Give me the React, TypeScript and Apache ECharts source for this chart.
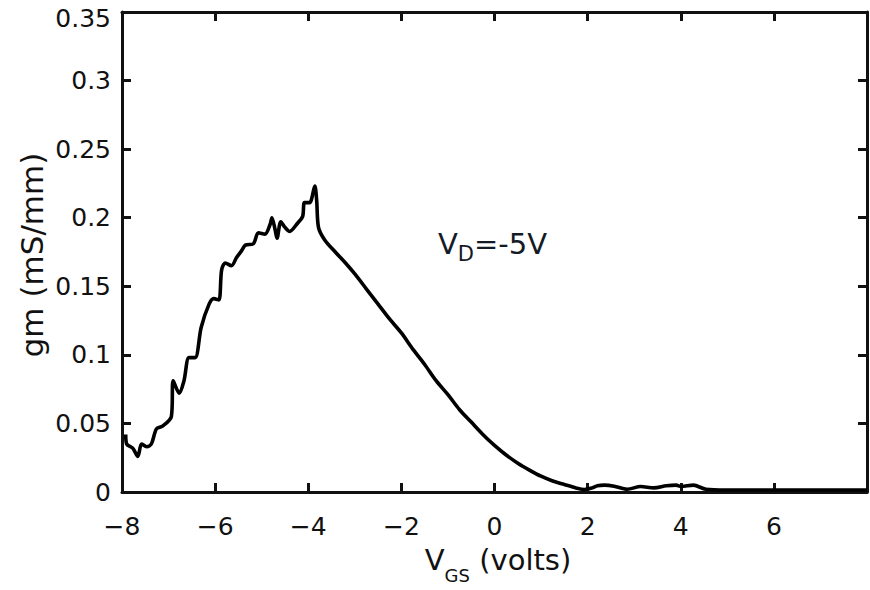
import React, { useEffect, useRef } from "react";
import * as echarts from "echarts";

// Gate voltage (V) and transconductance (mS/mm)
const vgs = [
  -7.92, -7.9, -7.77, -7.66, -7.58, -7.47, -7.37, -7.26, -7.13, -6.94,
  -6.9, -6.77, -6.67, -6.56, -6.43, -6.3, -6.13, -6.03, -5.92, -5.86,
  -5.78, -5.65, -5.54, -5.43, -5.35, -5.18, -5.07, -4.93, -4.82, -4.78,
  -4.71, -4.67, -4.59, -4.5, -4.4, -4.23, -4.12, -4.08, -3.97, -3.86,
  -3.82, -3.78, -3.65, -3.42, -3.2, -3.0, -2.75, -2.5, -2.25, -2.0,
  -1.75, -1.5, -1.25, -1.0, -0.75, -0.5, -0.25, 0.0, 0.25, 0.5,
  0.75, 1.0, 1.25, 1.5, 1.75, 1.93, 2.1, 2.21, 2.36, 2.57,
  2.85, 3.14, 3.42, 3.69, 3.9, 4.01, 4.27, 4.54, 4.97, 5.69,
  6.5, 7.3, 8,
];
const gm = [
  0.042, 0.035, 0.032, 0.026, 0.035, 0.033, 0.035, 0.046, 0.048, 0.055,
  0.081, 0.072, 0.081, 0.098, 0.098, 0.12, 0.137, 0.141, 0.14, 0.162,
  0.167, 0.165, 0.171, 0.176, 0.18, 0.181, 0.189, 0.188, 0.195, 0.2,
  0.191, 0.185, 0.197, 0.193, 0.19, 0.196, 0.201, 0.211, 0.211, 0.223,
  0.213, 0.193, 0.184, 0.175, 0.167, 0.159, 0.148, 0.137, 0.126, 0.116,
  0.104, 0.093, 0.081, 0.071, 0.06, 0.051, 0.042, 0.034, 0.027, 0.021,
  0.016, 0.0115, 0.008, 0.0055, 0.003, 0.0018, 0.003, 0.0045, 0.005, 0.0042,
  0.002, 0.004, 0.003, 0.0045, 0.005, 0.004, 0.005, 0.002, 0.0015, 0.0015,
  0.0015, 0.0015, 0.0015,
];

const xMin = -8;
const xMax = 8;
const xStep = 2;
const yMin = 0;
const yMax = 0.35;
const yStep = 0.05;

const yTitle = "gm (mS/mm)";
const xTitleMain = "V";
const xTitleSub = "GS";
const xTitleRest = " (volts)";
const noteMain = "V";
const noteSub = "D";
const noteRest = "=-5V";

const FONT = "DejaVu Sans";
const INK = "#111";

export default function App() {
  const ref = useRef<HTMLDivElement>(null);

  useEffect(() => {
    const chart = echarts.init(ref.current!, null, { renderer: "svg" });
    const data = vgs.map((x, i) => [x, gm[i]]);
    const lineStyle = { color: INK, width: 3 };
    const tick = { show: true, inside: true, length: 9, lineStyle: { color: INK, width: 3 } };
    const xLabel = {
      show: true,
      margin: 22,
      fontFamily: FONT,
      fontSize: 25,
      color: INK,
      formatter: (v: number) => (v >= xMax ? "" : String(v).replace("-", "\u2212")),
    };
    const yLabel = {
      show: true,
      margin: 11,
      fontFamily: FONT,
      fontSize: 25,
      color: INK,
      formatter: (v: number) => {
        const s = String(parseFloat(v.toFixed(2)));
        return v >= yMax - 1e-9 ? `{top|${s}}` : s;
      },
      rich: {
        top: { fontFamily: FONT, fontSize: 25, color: INK, padding: [12, 0, 0, 0] },
      },
    };

    chart.setOption({
      animation: false,
      backgroundColor: "#fff",
      grid: { left: 122, right: -6, top: 12, bottom: 98 },
      xAxis: [
        {
          type: "value",
          position: "bottom",
          min: xMin,
          max: xMax,
          interval: xStep,
          axisLine: { show: true, onZero: false, lineStyle },
          axisTick: tick,
          axisLabel: xLabel,
          splitLine: { show: false },
        },
        {
          type: "value",
          position: "top",
          min: xMin,
          max: xMax,
          interval: xStep,
          axisLine: { show: true, onZero: false, lineStyle },
          axisTick: tick,
          axisLabel: { show: false },
          splitLine: { show: false },
        },
      ],
      yAxis: [
        {
          type: "value",
          position: "left",
          min: yMin,
          max: yMax,
          interval: yStep,
          axisLine: { show: true, onZero: false, lineStyle },
          axisTick: tick,
          axisLabel: yLabel,
          splitLine: { show: false },
        },
        {
          type: "value",
          position: "right",
          min: yMin,
          max: yMax,
          interval: yStep,
          axisLine: { show: true, onZero: false, lineStyle },
          axisTick: tick,
          axisLabel: { show: false },
          splitLine: { show: false },
        },
      ],
      series: [
        {
          type: "line",
          xAxisIndex: 0,
          yAxisIndex: 0,
          data,
          showSymbol: false,
          smooth: 0.3,
          lineStyle: { color: "#000", width: 3.6 },
          silent: true,
        },
      ],
      graphic: [
        {
          type: "text",
          x: 32,
          y: 255,
          rotation: Math.PI / 2,
          style: {
            text: yTitle,
            fontFamily: FONT,
            fontSize: 31,
            fill: INK,
            align: "center",
            verticalAlign: "middle",
          },
        },
        {
          type: "text",
          x: 498,
          y: 545,
          style: {
            text: `{m|${xTitleMain}}{s|${xTitleSub}}{m|${xTitleRest}}`,
            align: "center",
            verticalAlign: "top",
            rich: {
              m: { fontFamily: FONT, fontSize: 29, lineHeight: 29, verticalAlign: "top", fill: INK },
              s: { fontFamily: FONT, fontSize: 18, lineHeight: 18, verticalAlign: "top", padding: [21, 0, 0, 0], fill: INK },
            },
          },
        },
        {
          type: "text",
          x: 438,
          y: 229,
          style: {
            text: `{m|${noteMain}}{s|${noteSub}}{m|${noteRest}}`,
            align: "left",
            verticalAlign: "top",
            rich: {
              m: { fontFamily: FONT, fontSize: 29, lineHeight: 29, verticalAlign: "top", fill: "#141a26" },
              s: { fontFamily: FONT, fontSize: 21, lineHeight: 21, verticalAlign: "top", padding: [14, 0, 0, 0], fill: "#141a26" },
            },
          },
        },
      ],
    });
    return () => chart.dispose();
  }, []);

  return (
    <div
      ref={ref}
      style={{ position: "fixed", left: 0, top: 0, width: 870, height: 590, background: "#fff" }}
    />
  );
}
